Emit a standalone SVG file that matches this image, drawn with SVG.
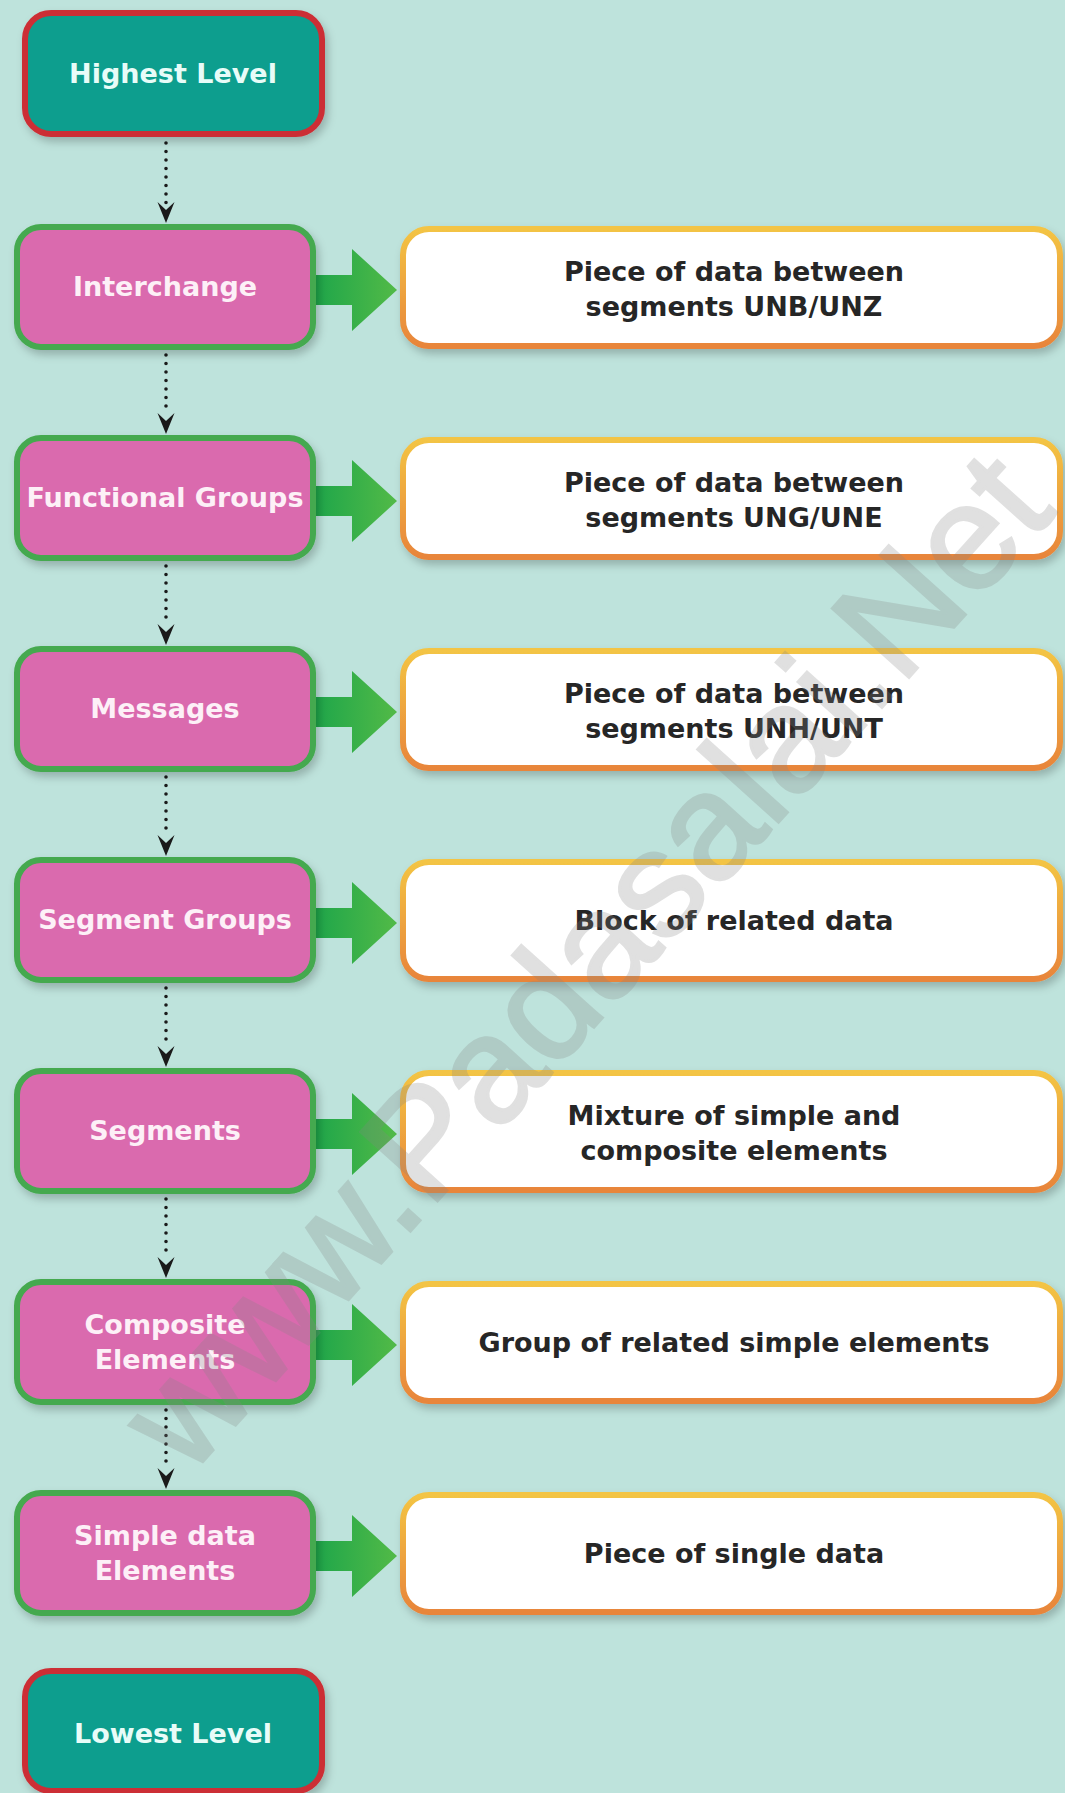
<svg xmlns="http://www.w3.org/2000/svg" width="1065" height="1793" viewBox="0 0 1065 1793">
  <style>
    .lvl rect { fill: #0c9e8e; stroke: #cc2f36; stroke-width: 6; }
    .lvl text { fill: #e8fcf8; }
    .item rect { fill: #da6bae; stroke: #44a94f; stroke-width: 6; }
    .item text { fill: #fdf0f7; }
    .desc rect { fill: #ffffff; stroke: url(#rimGrad); stroke-width: 6; }
    .desc text { fill: #262626; }
    text { font-family: "DejaVu Sans", Verdana, sans-serif; font-weight: bold; font-size: 27px; text-anchor: middle; }
    .dots { stroke: #1a1a1a; stroke-width: 3.6; stroke-linecap: round; stroke-dasharray: 0 8.5; fill: none; }
    .head { fill: #1a1a1a; }
    .push { fill: url(#pushGrad); }
    .wm { font-family: "Liberation Sans", Arial, sans-serif; font-weight: normal; font-size: 150px; text-anchor: start; fill: #858585; stroke: #858585; stroke-width: 3; }
  </style>
  <defs>
    <linearGradient id="rimGrad" x1="0" y1="0" x2="0" y2="1">
      <stop offset="0" stop-color="#f3c444"/>
      <stop offset="1" stop-color="#e8853a"/>
    </linearGradient>
    <linearGradient id="pushGrad" x1="0" y1="0" x2="1" y2="0">
      <stop offset="0" stop-color="#1fa64a"/>
      <stop offset="1" stop-color="#52ba47"/>
    </linearGradient>
    <filter id="soft" x="-10%" y="-20%" width="125%" height="150%">
      <feDropShadow dx="3" dy="5" stdDeviation="4" flood-color="#000" flood-opacity="0.22"/>
    </filter>
    <path id="tip" d="M0,0 L-8.5,-21 L0,-13 L8.5,-21 Z"/>
    <path id="push" d="M0,-15 L36,-15 L36,-41 L81,0 L36,41 L36,15 L0,15 Z"/>
  </defs>

  <rect width="1065" height="1793" fill="#bee3dc"/>

  <!-- dotted links between the levels -->
  <g id="connectors">
    <line class="dots" x1="166" y1="143" x2="166" y2="203"/>
    <use href="#tip" class="head" x="166" y="223"/>
    <line class="dots" x1="166" y1="355" x2="166" y2="414"/>
    <use href="#tip" class="head" x="166" y="434"/>
    <line class="dots" x1="166" y1="566" x2="166" y2="625"/>
    <use href="#tip" class="head" x="166" y="645"/>
    <line class="dots" x1="166" y1="777" x2="166" y2="836"/>
    <use href="#tip" class="head" x="166" y="856"/>
    <line class="dots" x1="166" y1="988" x2="166" y2="1047"/>
    <use href="#tip" class="head" x="166" y="1067"/>
    <line class="dots" x1="166" y1="1199" x2="166" y2="1258"/>
    <use href="#tip" class="head" x="166" y="1278"/>
    <line class="dots" x1="166" y1="1410" x2="166" y2="1469"/>
    <use href="#tip" class="head" x="166" y="1489"/>

    <!-- green block arrows to the descriptions -->
    <use href="#push" class="push" x="316" y="290"/>
    <use href="#push" class="push" x="316" y="501"/>
    <use href="#push" class="push" x="316" y="712"/>
    <use href="#push" class="push" x="316" y="923"/>
    <use href="#push" class="push" x="316" y="1134"/>
    <use href="#push" class="push" x="316" y="1345"/>
    <use href="#push" class="push" x="316" y="1556"/>
  </g>

  <g id="highest" class="lvl">
    <rect x="25" y="13" width="297" height="121" rx="26" filter="url(#soft)"/>
    <text x="173" y="83">Highest Level</text>
  </g>

  <g id="interchange" class="item">
    <rect x="17" y="227" width="296" height="120" rx="24" filter="url(#soft)"/>
    <text x="165" y="296">Interchange</text>
  </g>
  <g id="interchange-desc" class="desc">
    <rect x="403" y="229" width="657" height="117" rx="26" filter="url(#soft)"/>
    <text x="734" y="281">Piece of data between</text>
    <text x="734" y="316">segments UNB/UNZ</text>
  </g>

  <g id="functional-groups" class="item">
    <rect x="17" y="438" width="296" height="120" rx="24" filter="url(#soft)"/>
    <text x="165" y="507">Functional Groups</text>
  </g>
  <g id="functional-groups-desc" class="desc">
    <rect x="403" y="440" width="657" height="117" rx="26" filter="url(#soft)"/>
    <text x="734" y="492">Piece of data between</text>
    <text x="734" y="527">segments UNG/UNE</text>
  </g>

  <g id="messages" class="item">
    <rect x="17" y="649" width="296" height="120" rx="24" filter="url(#soft)"/>
    <text x="165" y="718">Messages</text>
  </g>
  <g id="messages-desc" class="desc">
    <rect x="403" y="651" width="657" height="117" rx="26" filter="url(#soft)"/>
    <text x="734" y="703">Piece of data between</text>
    <text x="734" y="738">segments UNH/UNT</text>
  </g>

  <g id="segment-groups" class="item">
    <rect x="17" y="860" width="296" height="120" rx="24" filter="url(#soft)"/>
    <text x="165" y="929">Segment Groups</text>
  </g>
  <g id="segment-groups-desc" class="desc">
    <rect x="403" y="862" width="657" height="117" rx="26" filter="url(#soft)"/>
    <text x="734" y="930">Block of related data</text>
  </g>

  <g id="segments" class="item">
    <rect x="17" y="1071" width="296" height="120" rx="24" filter="url(#soft)"/>
    <text x="165" y="1140">Segments</text>
  </g>
  <g id="segments-desc" class="desc">
    <rect x="403" y="1073" width="657" height="117" rx="26" filter="url(#soft)"/>
    <text x="734" y="1125">Mixture of simple and</text>
    <text x="734" y="1160">composite elements</text>
  </g>

  <g id="composite-elements" class="item">
    <rect x="17" y="1282" width="296" height="120" rx="24" filter="url(#soft)"/>
    <text x="165" y="1334">Composite</text>
    <text x="165" y="1369">Elements</text>
  </g>
  <g id="composite-elements-desc" class="desc">
    <rect x="403" y="1284" width="657" height="117" rx="26" filter="url(#soft)"/>
    <text x="734" y="1352">Group of related simple elements</text>
  </g>

  <g id="simple-data-elements" class="item">
    <rect x="17" y="1493" width="296" height="120" rx="24" filter="url(#soft)"/>
    <text x="165" y="1545">Simple data</text>
    <text x="165" y="1580">Elements</text>
  </g>
  <g id="simple-data-elements-desc" class="desc">
    <rect x="403" y="1495" width="657" height="117" rx="26" filter="url(#soft)"/>
    <text x="734" y="1563">Piece of single data</text>
  </g>

  <g id="lowest" class="lvl">
    <rect x="25" y="1671" width="297" height="120" rx="26" filter="url(#soft)"/>
    <text x="173" y="1743">Lowest Level</text>
  </g>

  <!-- diagonal site mark across the page -->
  <g opacity="0.25">
    <text class="wm" x="188" y="1478" textLength="1300" lengthAdjust="spacingAndGlyphs" transform="rotate(-48 188 1478)">www.Padasalai.Net</text>
  </g>
</svg>
